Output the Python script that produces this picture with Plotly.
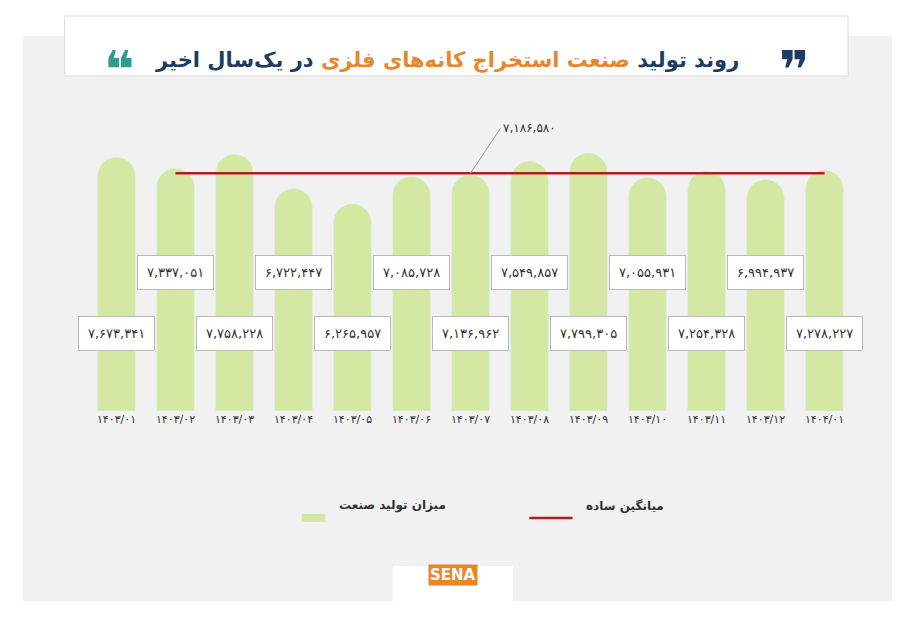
import plotly.graph_objects as go

def fa(s):
    return s.translate(str.maketrans("0123456789", "۰۱۲۳۴۵۶۷۸۹"))

months = ["1403/01", "1403/02", "1403/03", "1403/04", "1403/05", "1403/06", "1403/07",
          "1403/08", "1403/09", "1403/10", "1403/11", "1403/12", "1404/01"]
production = [7673341, 7337051, 7758228, 6722447, 6265957, 7085728, 7136962,
              7549857, 7799305, 7055931, 7254328, 6994937, 7278227]
average = 7186580

labels = [fa(m) for m in months]
FONT = "DejaVu Sans"

fig = go.Figure()
fig.add_bar(x=labels, y=production, marker_color="#d4e8a4", width=0.64,
            hoverinfo="skip")
fig.add_scatter(x=labels[1:], y=[average] * (len(labels) - 1), mode="lines",
                line=dict(color="#b01d1d", width=2.5), hoverinfo="skip")

# value boxes, alternating high/low
for i, (m, v) in enumerate(zip(labels, production)):
    fig.add_annotation(x=m, y=4.2e6 if i % 2 else 2.35e6, text=fa(f"{v:,}"),
                       showarrow=False, bgcolor="white", bordercolor="#bbbbbb",
                       borderwidth=1, borderpad=9,
                       font=dict(family=FONT, size=13, color="#333"))

fig.add_annotation(x=labels[6], y=average, ax=30, ay=-45, text=fa(f"{average:,}"),
                   showarrow=True, arrowhead=0, arrowcolor="#999", arrowwidth=1,
                   xanchor="left", font=dict(family=FONT, size=12, color="#333"))

# background card and title box
fig.add_shape(type="rect", xref="paper", yref="paper", x0=-0.07, x1=1.038,
              y0=-0.613, y1=1.21, line_width=0, fillcolor="#f1f1f1", layer="below")
fig.add_shape(type="rect", xref="paper", yref="paper", x0=-0.017, x1=0.981,
              y0=1.081, y1=1.274, line=dict(color="#dddddd", width=1),
              fillcolor="white", layer="below")
fig.add_annotation(xref="paper", yref="paper", x=0.47, y=1.178, showarrow=False,
                   text="<b><span style='color:#1d3c64'>روند تولید </span>"
                        "<span style='color:#e8862b'>صنعت استخراج کانه‌های فلزی</span>"
                        "<span style='color:#1d3c64'> در یک‌سال اخیر</span></b>",
                   font=dict(family=FONT, size=21))
fig.add_annotation(xref="paper", yref="paper", x=0.03, y=1.178, yanchor="middle",
                   showarrow=False, yshift=-24,
                   text="<b>❝</b>", font=dict(family=FONT, size=52, color="#2a9d8f"))
fig.add_annotation(xref="paper", yref="paper", x=0.935, y=1.178, yanchor="middle",
                   showarrow=False, yshift=-24,
                   text="<b>❞</b>", font=dict(family=FONT, size=52, color="#1d3c64"))

# legend
fig.add_shape(type="line", xref="paper", yref="paper", x0=0.285, x1=0.315,
              y0=-0.345, y1=-0.345, line=dict(color="#d4e8a4", width=8))
fig.add_annotation(xref="paper", yref="paper", x=0.33, y=-0.335, showarrow=False,
                   xanchor="left", text="<b>میزان تولید صنعت</b>",
                   font=dict(family=FONT, size=12, color="#333"))
fig.add_shape(type="line", xref="paper", yref="paper", x0=0.575, x1=0.63,
              y0=-0.345, y1=-0.345, line=dict(color="#b01d1d", width=2.5))
fig.add_annotation(xref="paper", yref="paper", x=0.645, y=-0.335, showarrow=False,
                   xanchor="left", text="<b>میانگین ساده</b>",
                   font=dict(family=FONT, size=12, color="#333"))

# logo
fig.add_shape(type="rect", xref="paper", yref="paper", x0=0.401, x1=0.554,
              y0=-0.68, y1=-0.5, line_width=0, fillcolor="white")
fig.add_annotation(xref="paper", yref="paper", x=0.478, y=-0.565, showarrow=False,
                   text="<b>SENA</b>", bgcolor="#e8862b",
                   font=dict(family=FONT, size=15, color="white"))

fig.update_layout(
    width=900, height=623, paper_bgcolor="white", plot_bgcolor="rgba(0,0,0,0)",
    margin=dict(l=70, r=45, t=93, b=220), showlegend=False,
    barcornerradius="50%",
    xaxis=dict(showgrid=False, showline=False, tickfont=dict(family=FONT, size=11, color="#333")),
    yaxis=dict(visible=False, range=[0, 9.37e6]),
)
fig.write_html("out.html")
